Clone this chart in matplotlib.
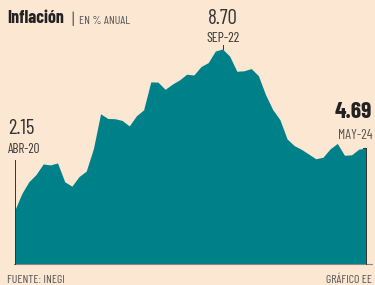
import matplotlib.pyplot as plt
import numpy as np

# inflacion anual en Mexico, abr-2020 a may-2024 (mensual)
months = ['ABR-20', 'MAY-20', 'JUN-20', 'JUL-20', 'AGO-20', 'SEP-20', 'OCT-20', 'NOV-20', 'DIC-20',
          'ENE-21', 'FEB-21', 'MAR-21', 'ABR-21', 'MAY-21', 'JUN-21', 'JUL-21', 'AGO-21', 'SEP-21',
          'OCT-21', 'NOV-21', 'DIC-21',
          'ENE-22', 'FEB-22', 'MAR-22', 'ABR-22', 'MAY-22', 'JUN-22', 'JUL-22', 'AGO-22', 'SEP-22',
          'OCT-22', 'NOV-22', 'DIC-22',
          'ENE-23', 'FEB-23', 'MAR-23', 'ABR-23', 'MAY-23', 'JUN-23', 'JUL-23', 'AGO-23', 'SEP-23',
          'OCT-23', 'NOV-23', 'DIC-23',
          'ENE-24', 'FEB-24', 'MAR-24', 'ABR-24', 'MAY-24']
values = [2.15, 2.84, 3.33, 3.62, 4.05, 4.01, 4.09, 3.33, 3.15,
          3.54, 3.76, 4.67, 6.08, 5.89, 5.88, 5.81, 5.59, 6.00, 6.24, 7.37, 7.36,
          7.07, 7.28, 7.45, 7.68, 7.65, 7.99, 8.15, 8.62, 8.70, 8.41, 7.80, 7.82,
          7.91, 7.62, 6.85, 6.25, 5.84, 5.06, 4.79, 4.64, 4.45, 4.26, 4.32, 4.66,
          4.88, 4.40, 4.42, 4.65, 4.69]

bg = '#fbe7d2'
teal = '#008189'
dark = '#333333'
gray = '#555555'
plt.rcParams['font.family'] = ['Barlow Condensed', 'DejaVu Sans']

x = np.arange(len(values))
i_max = int(np.argmax(values))
i_end = len(values) - 1

fig = plt.figure(figsize=(3.75, 2.85), dpi=100, facecolor=bg)
ax = fig.add_axes([14.5 / 375, 21 / 285, 351.5 / 375, 254 / 285])
ax.set_facecolor(bg)
ax.fill_between(x, values, 0, color=teal, linewidth=0)
ax.set_xlim(0, i_end)
ax.set_ylim(0, 10.28)
ax.axis('off')

# linea base
ax.plot([-0.1, i_end + 0.85], [0, 0], color='#888888', lw=0.8, clip_on=False)

# marcadores
ax.plot([0, 0], [0, 4.2], color=dark, lw=0.7, clip_on=False)
ax.plot([i_end, i_end], [0, values[i_end]], color=dark, lw=0.7, clip_on=False)
ax.plot([i_end - 0.4, i_end], [values[i_end], values[i_end]], color=dark, lw=0.7, clip_on=False)
ax.plot([i_max, i_max], [values[i_max], values[i_max] + 0.17], color=dark, lw=0.7, clip_on=False)

# etiquetas
ax.text(-0.9, 5.26, f'{values[0]:.2f}', fontsize=15, color=dark, ha='left', va='baseline')
ax.text(-0.9, 4.49, months[0], fontsize=9.5, color=dark, ha='left', va='baseline')
ax.text(i_max, 9.72, f'{values[i_max]:.2f}', fontsize=15, color=dark, ha='center', va='baseline')
ax.text(i_max, 8.99, months[i_max], fontsize=10, color=dark, ha='center', va='baseline')
ax.text(i_end + 0.84, 5.91, f'{values[i_end]:.2f}', fontsize=17, fontweight='bold', color='#222222',
        ha='right', va='baseline')
ax.text(i_end + 0.84, 5.06, months[i_end], fontsize=10, color=gray, ha='right', va='baseline')

fig.text(7 / 375, 1 - 23 / 285, 'Inflación', fontsize=13, fontweight='bold', color='#222222',
         ha='left', va='baseline')
fig.text(71 / 375, 1 - 25 / 285, '|', fontsize=12, color=gray, ha='left', va='baseline')
fig.text(79 / 375, 1 - 24 / 285, 'EN % ANUAL', fontsize=8.5, color=gray, ha='left', va='baseline')
fig.text(7 / 375, 1 - 283 / 285, 'FUENTE: INEGI', fontsize=8.5, color=gray, ha='left', va='baseline')
fig.text(372 / 375, 1 - 283 / 285, 'GRÁFICO EE', fontsize=8.5, color=gray, ha='right', va='baseline')

fig.savefig('out.png', dpi=100, facecolor=bg)
